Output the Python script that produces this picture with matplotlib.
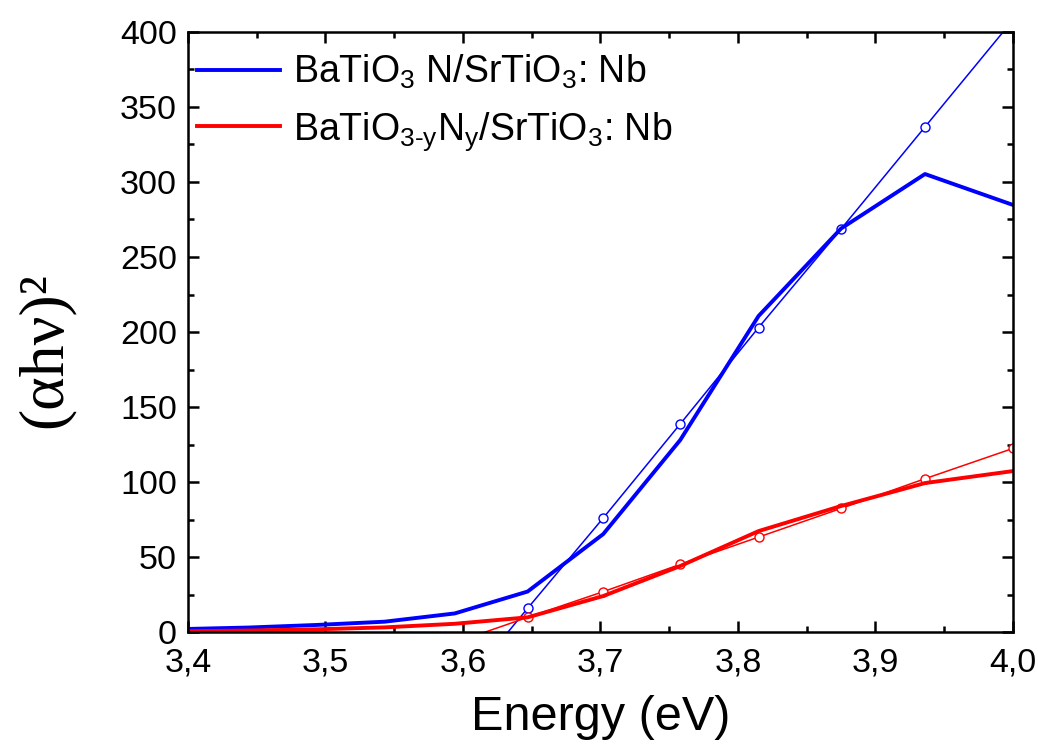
import matplotlib
matplotlib.use("Agg")
import matplotlib.pyplot as plt
from matplotlib.ticker import MultipleLocator, FuncFormatter

# photon energies (eV) of the measured points
energy = [3.397, 3.444, 3.493, 3.543, 3.594, 3.647, 3.702, 3.758, 3.815, 3.875, 3.936, 4.000]
# (alpha h nu)^2 curves
batio3_n = [2.0, 3.0, 4.7, 6.9, 12.4, 27.0, 65.3, 128.0, 210.7, 269.0, 305.3, 284.7]
batio3_yn = [0.5, 1.0, 1.8, 3.1, 5.5, 9.8, 24.0, 44.0, 67.3, 84.0, 99.3, 107.3]

# linear fits near the absorption edge
fit_energy = [3.594, 3.647, 3.702, 3.758, 3.815, 3.875, 3.936, 4.000]
fit_n = [-43.0, 15.8, 76.0, 138.7, 203.0, 268.7, 336.7, 408.0]
fit_yn = [-7.1, 9.8, 26.9, 45.1, 63.3, 82.4, 102.2, 122.4]

label_n = r"BaTiO$_{3}$ N/SrTiO$_{3}$: Nb"
label_yn = "BaTiO$_{3\u2010y}$N$_{y}$/SrTiO$_{3}$: Nb"

plt.rcParams["font.family"] = ["Liberation Sans", "DejaVu Sans"]
plt.rcParams["mathtext.fontset"] = "custom"
plt.rcParams["mathtext.rm"] = "Liberation Sans"
plt.rcParams["mathtext.it"] = "Liberation Sans"
plt.rcParams["mathtext.default"] = "regular"

fig = plt.figure(figsize=(10.38, 7.47), dpi=100)
ax = fig.add_axes([0.1811, 0.1539, 0.7948, 0.8033])

ax.plot(fit_energy, fit_n, "-o", color="#0000ff", lw=1.1, ms=6.5,
        mfc="white", mec="#0000ff", mew=1.0)
ax.plot(fit_energy, fit_yn, "-o", color="#ff0000", lw=1.1, ms=6.5,
        mfc="white", mec="#ff0000", mew=1.0)
ax.plot(energy, batio3_n, "-", color="#0000ff", lw=2.8, label=label_n)
ax.plot(energy, batio3_yn, "-", color="#ff0000", lw=2.8, label=label_yn)

ax.set_xlim(3.4, 4.0)
ax.set_ylim(0, 400)
ax.xaxis.set_major_locator(MultipleLocator(0.1))
ax.xaxis.set_minor_locator(MultipleLocator(0.05))
ax.yaxis.set_major_locator(MultipleLocator(50))
ax.yaxis.set_minor_locator(MultipleLocator(25))
ax.xaxis.set_major_formatter(FuncFormatter(lambda v, p: f"{v:.1f}".replace(".", ",")))

ax.tick_params(which="both", direction="in", top=True, right=True, width=1.8,
               labelsize=24.5)
ax.tick_params(which="major", length=8, pad=8)
ax.tick_params(axis="x", which="major", pad=11)
ax.tick_params(which="minor", length=4)
for s in ax.spines.values():
    s.set_linewidth(1.8)

ax.set_xlabel("Energy (eV)", fontsize=35)
ax.xaxis.set_label_coords(0.5, -0.105)
ax.set_ylabel("(\u03b1h\u03bd)\u00b2", fontsize=46, family=["Liberation Serif", "DejaVu Serif"],
              va="center")
ax.yaxis.set_label_coords(-0.173, 0.47)

leg = ax.legend(loc="upper left", frameon=False, fontsize=27, handlelength=2.2,
                borderaxespad=0.0, labelspacing=0.5, handletextpad=0.35,
                bbox_to_anchor=(-0.007, 0.99))

fig.savefig("out.png", dpi=100)
